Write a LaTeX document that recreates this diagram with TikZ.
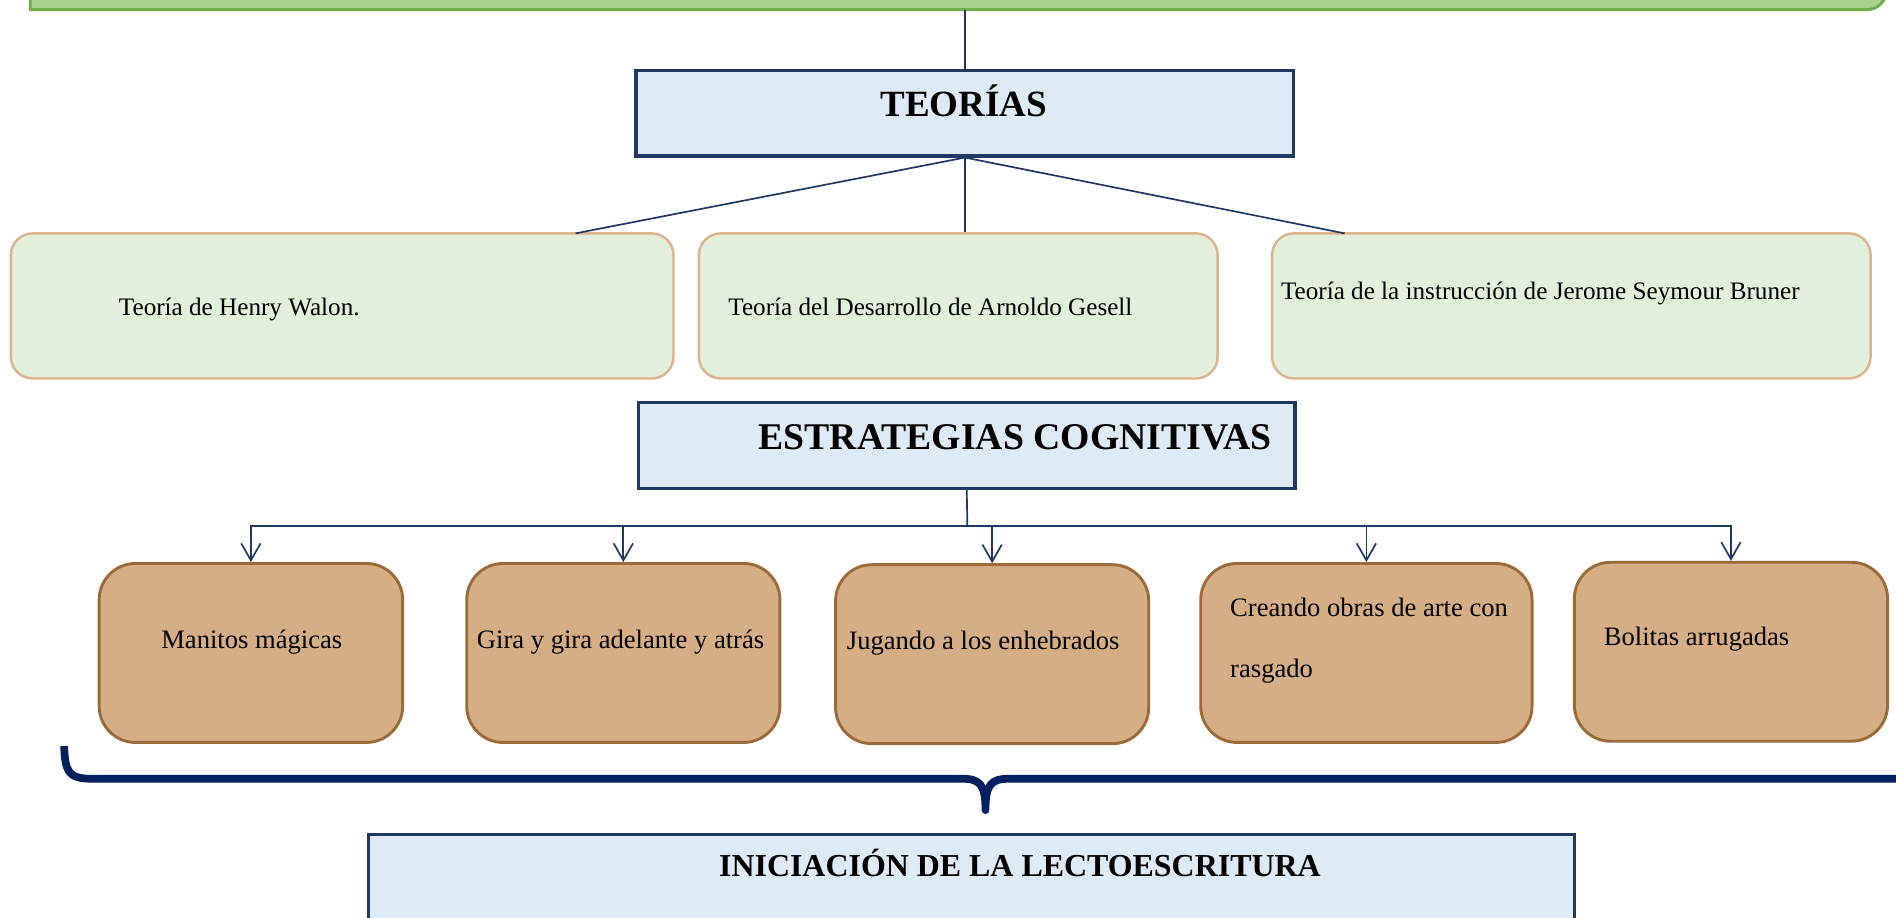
\documentclass[tikz,border=0pt]{standalone}
\usepackage{fontspec}
\setmainfont{Liberation Serif}
\usetikzlibrary{arrows.meta,fit}
\definecolor{navy}{HTML}{1F3864}
\definecolor{bracenavy}{HTML}{002060}
\definecolor{lightblue}{HTML}{DEEAF6}
\definecolor{palegreen}{HTML}{E2EFDA}
\definecolor{tanborder}{HTML}{DDB38B}
\definecolor{brownfill}{HTML}{D6AE86}
\definecolor{brownborder}{HTML}{9C6A37}
\definecolor{topfill}{HTML}{A9D18E}
\definecolor{topborder}{HTML}{70AD47}
\begin{document}
\begin{tikzpicture}[x=0.5pt,y=-0.5pt,
  conn/.style={draw=navy,line width=0.7pt},
  arr/.style={conn,-{Straight Barb[length=7pt,width=8pt,line width=0.7pt]}},
  bluebox/.style={draw=navy,line width=1.3pt,fill=lightblue,inner sep=0pt},
  greenbox/.style={draw=tanborder,line width=1pt,fill=palegreen,rounded corners=9pt,inner sep=0pt},
  brownbox/.style={draw=brownborder,line width=1.2pt,fill=brownfill,rounded corners=15pt,inner sep=0pt},
  topbox/.style={draw=topborder,line width=1.2pt,fill=topfill},
  brace/.style={draw=bracenavy,line width=3.2pt,line join=round},
  glbl/.style={inner sep=0pt,anchor=base west,font=\fontsize{10.4}{12}\selectfont},
  blbl/.style={inner sep=0pt,anchor=base west,align=left,font=\fontsize{11}{25}\selectfont},
  title/.style={inner sep=0pt,font=\fontsize{15.3}{18}\selectfont\bfseries},
]
\useasboundingbox (0,0) rectangle (1568,759);
\clip (0,0) rectangle (1568,759);

% top green box (partly outside)
\filldraw[topbox] (25,-40) -- (25,8) [rounded corners=8pt] -- (1560,8) -- (1560,-40) [sharp corners] -- cycle;
\coordinate (topc) at (798,8);

% TEORIAS
\node[bluebox,fit={(526,58) (1070,129)}] (teo) {};
\node[title,anchor=base] (teoT) at (797,96) {TEORÍAS};
\draw[conn] (topc) -- (teo.north);

% theory boxes
\node[greenbox,fit={(9,193) (557,313)}] (gA) {};
\node[greenbox,fit={(578,193) (1007,313)}] (gB) {};
\node[greenbox,fit={(1052,193) (1547,313)}] (gC) {};
\node[glbl] (tA) at (98,261) {Teoría de Henry Walon.};
\node[glbl] (tB) at (602,261) {Teoría del Desarrollo de Arnoldo Gesell};
\node[glbl] (tC) at (1059,248) {Teoría de la instrucción de Jerome Seymour Bruner};
\coordinate (pA) at (476,193);
\coordinate (pC) at (1112,193);
\draw[conn] (teo.south) -- (pA);
\draw[conn] (teo.south) -- (teo.south |- gB.north);
\draw[conn] (teo.south) -- (pC);

% ESTRATEGIAS
\node[bluebox,fit={(528,333) (1071,404)}] (est) {};
\node[title,anchor=base west,font=\fontsize{15.6}{18}\selectfont\bfseries] (estT) at (627,372) {ESTRATEGIAS COGNITIVAS};

% strategy boxes
\node[brownbox,fit={(82,466) (333,614)}] (b1) {};
\node[brownbox,fit={(386,466) (645,614)}] (b2) {};
\node[brownbox,fit={(691,467) (950,615)}] (b3) {};
\node[brownbox,fit={(993,466) (1267,614)}] (b4) {};
\node[brownbox,fit={(1302,465) (1561,613)}] (b5) {};
\node[blbl] (s1) at (133,536) {Manitos mágicas};
\node[blbl] (s2) at (394,536) {Gira y gira adelante y atrás};
\node[blbl] (s3) at (700,537) {Jugando a los enhebrados};
\node[blbl] (s4) at (1017,560) {Creando obras de arte con\\rasgado};
\node[blbl] (s5) at (1326,534) {Bolitas arrugadas};

\coordinate (hub) at (800,435);
\draw[conn] (est.south) -- (hub);
\draw[arr] (hub) -| (b1.north);
\draw[arr] (hub) -| (b2.north);
\draw[arr] (hub) -| (b3.north);
\draw[arr] (hub) -| (b4.north);
\draw[arr] (hub) -| (b5.north);

% brace
\draw[brace] (53,617) .. controls (54,636) and (55,644) .. (75,644) -- (795,644)
  .. controls (810,644) and (815,648) .. (815,670)
  .. controls (815,648) and (820,644) .. (835,644) -- (1600,644);

% INICIACION
\node[bluebox,fit={(305,690) (1302,800)}] (ini) {};
\node[inner sep=0pt,anchor=base,font=\fontsize{13.2}{15}\selectfont\bfseries] (iniT) at (843.5,725) {INICIACIÓN DE LA LECTOESCRITURA};
\end{tikzpicture}
\end{document}
